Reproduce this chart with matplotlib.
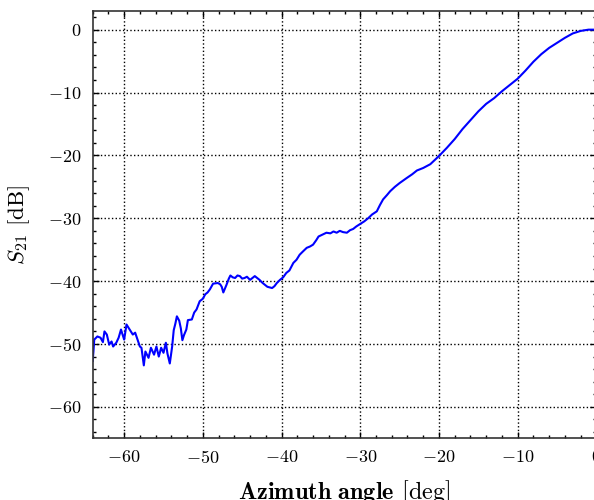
import matplotlib
matplotlib.use("Agg")
import matplotlib.pyplot as plt
from matplotlib.ticker import MultipleLocator

azimuth = [
    -64.0, -63.9, -63.8, -63.4, -63.0, -62.7, -62.5, -62.2, -61.9, -61.6,
    -61.4, -61.0, -60.7, -60.4, -60.0, -59.7, -59.3, -58.9, -58.6, -58.3,
    -58.0, -57.8, -57.5, -57.3, -56.9, -56.6, -56.2, -55.9, -55.6, -55.3,
    -55.0, -54.7, -54.5, -54.2, -53.9, -53.7, -53.5, -53.3, -53.0, -52.8,
    -52.6, -52.4, -52.1, -51.9, -51.4, -51.1, -50.8, -50.4, -50.0, -49.7,
    -49.4, -49.1, -48.7, -48.1, -47.8, -47.6, -47.4, -47.2, -47.0, -46.7,
    -46.5, -46.2, -45.9, -45.6, -45.3, -45.0, -44.7, -44.4, -44.0, -43.7,
    -43.4, -43.1, -42.8, -42.4, -42.1, -41.8, -41.5, -41.2, -40.9, -40.6,
    -40.2, -39.8, -39.4, -39.0, -38.5, -38.1, -37.7, -37.3, -36.8, -36.4,
    -36.0, -35.6, -35.3, -34.8, -34.3, -33.8, -33.4, -33.0, -32.6, -32.2,
    -31.7, -31.3, -30.9, -30.5, -30.0, -29.5, -29.0, -28.5, -27.9, -27.5,
    -27.1, -26.6, -26.2, -25.6, -25.0, -24.1, -23.4, -22.8, -22.0, -21.1,
    -20.5, -20.0, -19.0, -18.0, -17.0, -16.0, -15.0, -14.0, -13.0, -12.0,
    -11.0, -10.0, -9.0, -8.0, -7.0, -6.0, -5.0, -4.0, -3.0, -2.0,
    -1.0, 0.0,
]
s21 = [
    -52.7, -51.2, -49.3, -48.8, -49.0, -49.7, -48.0, -48.5, -50.1, -49.6,
    -50.4, -49.8, -49.0, -47.7, -49.3, -46.9, -47.7, -48.5, -48.2, -49.3,
    -50.4, -50.6, -53.4, -51.2, -52.2, -50.6, -51.7, -50.4, -52.0, -50.6,
    -51.4, -49.8, -51.5, -53.1, -50.4, -47.8, -46.8, -45.6, -46.3, -47.5,
    -49.4, -48.6, -47.7, -46.2, -46.1, -45.0, -44.5, -43.2, -42.8, -42.1,
    -41.8, -41.3, -40.4, -40.3, -40.5, -40.9, -41.8, -41.2, -40.6, -39.6,
    -39.1, -39.4, -39.5, -39.1, -39.2, -39.6, -39.5, -39.3, -39.8, -39.5,
    -39.2, -39.5, -39.8, -40.3, -40.6, -40.9, -41.0, -41.1, -40.8, -40.3,
    -39.8, -39.4, -38.7, -38.3, -37.1, -36.6, -35.8, -35.3, -34.7, -34.5,
    -34.2, -33.5, -32.9, -32.6, -32.3, -32.4, -32.1, -32.3, -32.0, -32.2,
    -32.3, -31.9, -31.7, -31.3, -30.9, -30.5, -30.0, -29.4, -28.9, -27.9,
    -27.0, -26.3, -25.7, -25.0, -24.4, -23.6, -23.0, -22.4, -22.0, -21.4,
    -20.7, -20.1, -18.8, -17.4, -15.8, -14.4, -13.0, -11.8, -10.9, -9.8,
    -8.8, -7.8, -6.5, -5.1, -3.9, -2.9, -2.1, -1.3, -0.6, -0.2,
    0.0, 0.0,
]

plt.rcParams['font.family'] = 'serif'
plt.rcParams['font.serif'] = ['cmr10']
plt.rcParams['mathtext.fontset'] = 'cm'
plt.rcParams['axes.formatter.use_mathtext'] = True
plt.rcParams['axes.unicode_minus'] = True

fig = plt.figure(figsize=(5.94, 5.0), dpi=100)
ax = fig.add_axes([0.156, 0.1234, 0.848, 0.855])

ax.plot(azimuth, s21, color='blue', linewidth=1.5)

ax.set_xlim(-64, 0)
ax.set_ylim(-65, 3)
ax.xaxis.set_major_locator(MultipleLocator(10))
ax.xaxis.set_minor_locator(MultipleLocator(2))
ax.yaxis.set_major_locator(MultipleLocator(10))
ax.yaxis.set_minor_locator(MultipleLocator(2))

ax.tick_params(which='both', direction='in', top=True, right=True, labelsize=13, pad=8)
ax.tick_params(which='major', length=4.5, width=1.0)
ax.tick_params(which='minor', length=2.5, width=1.0)
for sp in ax.spines.values():
    sp.set_linewidth(1.2)
    sp.set_color('#333333')

ax.grid(True, which='major', linestyle=':', color='black', linewidth=1.0)

ax.set_xlabel(r'$\mathbf{Azimuth\ angle}$ $[\mathrm{deg}]$', fontsize=17.5)
ax.set_ylabel(r'$S_{21}$ $[\mathrm{dB}]$', fontsize=16.5)
ax.xaxis.set_label_coords(0.5, -0.093)
ax.yaxis.set_label_coords(-0.12, 0.5)

fig.savefig('out.png', dpi=100)
